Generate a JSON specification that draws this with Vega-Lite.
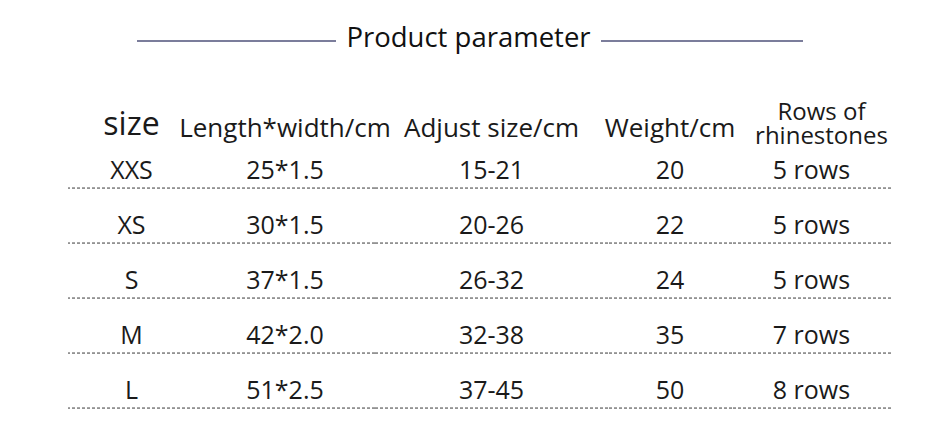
{
  "$schema": "https://vega.github.io/schema/vega-lite/v6.json",
  "background": "white",
  "padding": {"left": 67, "top": 21, "right": 0, "bottom": 0},
  "config": {
    "view": {"stroke": null},
    "font": "Open Sans",
    "title": {"fontWeight": "normal", "fontSize": 26, "color": "#1a1a1a", "anchor": "middle", "offset": 2},
    "text": {"font": "Open Sans", "fontSize": 25, "color": "#1a1a1a", "baseline": "middle"}
  },
  "datasets": {
    "sizes": [
      {"size": "XXS", "length_width": "25*1.5", "adjust": "15-21", "weight": "20", "rhinestones": "5 rows"},
      {"size": "XS", "length_width": "30*1.5", "adjust": "20-26", "weight": "22", "rhinestones": "5 rows"},
      {"size": "S", "length_width": "37*1.5", "adjust": "26-32", "weight": "24", "rhinestones": "5 rows"},
      {"size": "M", "length_width": "42*2.0", "adjust": "32-38", "weight": "35", "rhinestones": "7 rows"},
      {"size": "L", "length_width": "51*2.5", "adjust": "37-45", "weight": "50", "rhinestones": "8 rows"}
    ]
  },
  "bounds": "flush",
  "spacing": 122.5,
  "vconcat": [
    {
      "bounds": "flush",
      "spacing": 0,
      "hconcat": [
        {
          "width": 69,
          "height": 40,
          "data": {"values": [{"blank": ""}]},
          "mark": "text",
          "encoding": {"text": {"field": "blank"}}
        },
        {
          "width": 199,
          "height": 40,
          "data": {"values": [{"line": "left"}]},
          "mark": {"type": "rule", "color": "#7b7d9b", "strokeWidth": 2},
          "encoding": {"y": {"field": "line", "type": "nominal", "axis": null}}
        },
        {
          "width": 265,
          "height": 40,
          "data": {"values": [{"heading": "Product parameter"}]},
          "mark": {"type": "text", "fontSize": 27.5, "color": "#111111", "dy": -2},
          "encoding": {
            "y": {"field": "heading", "type": "nominal", "axis": null},
            "text": {"field": "heading"}
          }
        },
        {
          "width": 202,
          "height": 40,
          "data": {"values": [{"line": "right"}]},
          "mark": {"type": "rule", "color": "#7b7d9b", "strokeWidth": 2},
          "encoding": {"y": {"field": "line", "type": "nominal", "axis": null}}
        }
      ]
    },
    {
      "bounds": "flush",
      "spacing": 0,
      "data": {"name": "sizes"},
      "hconcat": [
        {
          "width": 127,
          "height": 275,
          "title": {"text": "size", "fontSize": 32},
          "layer": [
            {
              "mark": "text",
              "encoding": {
                "y": {"field": "size", "type": "nominal", "sort": null, "axis": null, "scale": {"paddingInner": 0, "paddingOuter": 0}},
                "text": {"field": "size"}
              }
            },
            {
              "mark": {"type": "rule", "color": "#3a3a3a", "strokeWidth": 1, "strokeDash": [3, 2]},
              "encoding": {
                "y": {"field": "size", "type": "nominal", "sort": null, "axis": null, "bandPosition": 0.81}
              }
            }
          ]
        },
        {
          "width": 180,
          "height": 275,
          "title": "Length*width/cm",
          "layer": [
            {
              "mark": "text",
              "encoding": {
                "y": {"field": "size", "type": "nominal", "sort": null, "axis": null, "scale": {"paddingInner": 0, "paddingOuter": 0}},
                "text": {"field": "length_width"}
              }
            },
            {
              "mark": {"type": "rule", "color": "#3a3a3a", "strokeWidth": 1, "strokeDash": [3, 2]},
              "encoding": {
                "y": {"field": "size", "type": "nominal", "sort": null, "axis": null, "bandPosition": 0.81}
              }
            }
          ]
        },
        {
          "width": 233,
          "height": 275,
          "title": "Adjust size/cm",
          "layer": [
            {
              "mark": "text",
              "encoding": {
                "y": {"field": "size", "type": "nominal", "sort": null, "axis": null, "scale": {"paddingInner": 0, "paddingOuter": 0}},
                "text": {"field": "adjust"}
              }
            },
            {
              "mark": {"type": "rule", "color": "#3a3a3a", "strokeWidth": 1, "strokeDash": [3, 2]},
              "encoding": {
                "y": {"field": "size", "type": "nominal", "sort": null, "axis": null, "bandPosition": 0.81}
              }
            }
          ]
        },
        {
          "width": 124,
          "height": 275,
          "title": "Weight/cm",
          "layer": [
            {
              "mark": "text",
              "encoding": {
                "y": {"field": "size", "type": "nominal", "sort": null, "axis": null, "scale": {"paddingInner": 0, "paddingOuter": 0}},
                "text": {"field": "weight"}
              }
            },
            {
              "mark": {"type": "rule", "color": "#3a3a3a", "strokeWidth": 1, "strokeDash": [3, 2]},
              "encoding": {
                "y": {"field": "size", "type": "nominal", "sort": null, "axis": null, "bandPosition": 0.81}
              }
            }
          ]
        },
        {
          "width": 159,
          "height": 275,
          "title": {"text": ["Rows of", "rhinestones"], "fontSize": 24, "lineHeight": 24, "dx": 10, "offset": -5},
          "layer": [
            {
              "mark": "text",
              "encoding": {
                "y": {"field": "size", "type": "nominal", "sort": null, "axis": null, "scale": {"paddingInner": 0, "paddingOuter": 0}},
                "text": {"field": "rhinestones"}
              }
            },
            {
              "mark": {"type": "rule", "color": "#3a3a3a", "strokeWidth": 1, "strokeDash": [3, 2]},
              "encoding": {
                "y": {"field": "size", "type": "nominal", "sort": null, "axis": null, "bandPosition": 0.81}
              }
            }
          ]
        }
      ]
    }
  ]
}
